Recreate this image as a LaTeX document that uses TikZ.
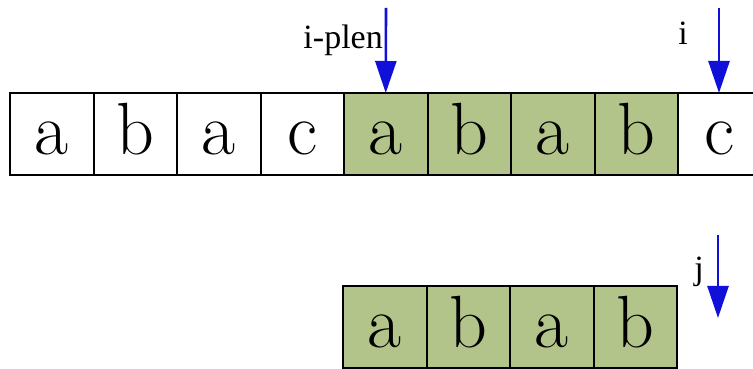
\documentclass[tikz,border=0pt]{standalone}
\usepackage{fontspec}
\newfontfamily\lblfont{Liberation Serif}
\usetikzlibrary{arrows.meta, positioning}
\definecolor{cgreen}{HTML}{B3C48A}
\definecolor{cblue}{HTML}{1010D8}
\tikzset{
  cell/.style={draw=black, fill=#1, line width=2pt, outer sep=0pt, inner sep=0pt,
    minimum width=83.5pt, minimum height=82pt, text height=50pt, text depth=8pt,
    font=\fontsize{74}{74}\selectfont},
  cell/.default=white,
  ptr/.style={-{Triangle[length=32pt, width=21pt]}, draw=cblue, fill=cblue, line width=2.6pt},
  lbl/.style={font=\lblfont\fontsize{34}{34}\selectfont, inner sep=0pt},
}

\begin{document}
\begin{tikzpicture}[x=1pt, y=1pt]
  \useasboundingbox (0,0) rectangle (753,369);
  % text row
  \foreach \c/\f [count=\k] in {a/white,b/white,a/white,c/white,a/cgreen,b/cgreen,a/cgreen,b/cgreen,c/white}
    \node[cell=\f] (t\k) at ({10+83.5*(\k-0.5)},235) {\c};
  % pattern row
  \foreach \c [count=\k] in {a,b,a,b}
    \node[cell=cgreen] (p\k) at ({343+83.5*(\k-0.5)},42) {\c};
  % pointers
  \coordinate (iplentop) at (386,361);
  \coordinate (itop) at (719,361);
  \coordinate (jtop) at (718,134);
  \coordinate (jtip) at (718,51);
  \draw[ptr] (iplentop) -- (t5.north);
  \draw[ptr] (itop) -- (t9.north -| itop);
  \draw[ptr] (jtop) -- (jtip);
  \node[lbl, anchor=base east] (iplen) at (383,320) {i-plen};
  \node[lbl, anchor=base east] (ilbl) at (688,324) {i};
  \node[lbl, anchor=base east] (jlbl) at (704,89) {j};
\end{tikzpicture}
\end{document}
